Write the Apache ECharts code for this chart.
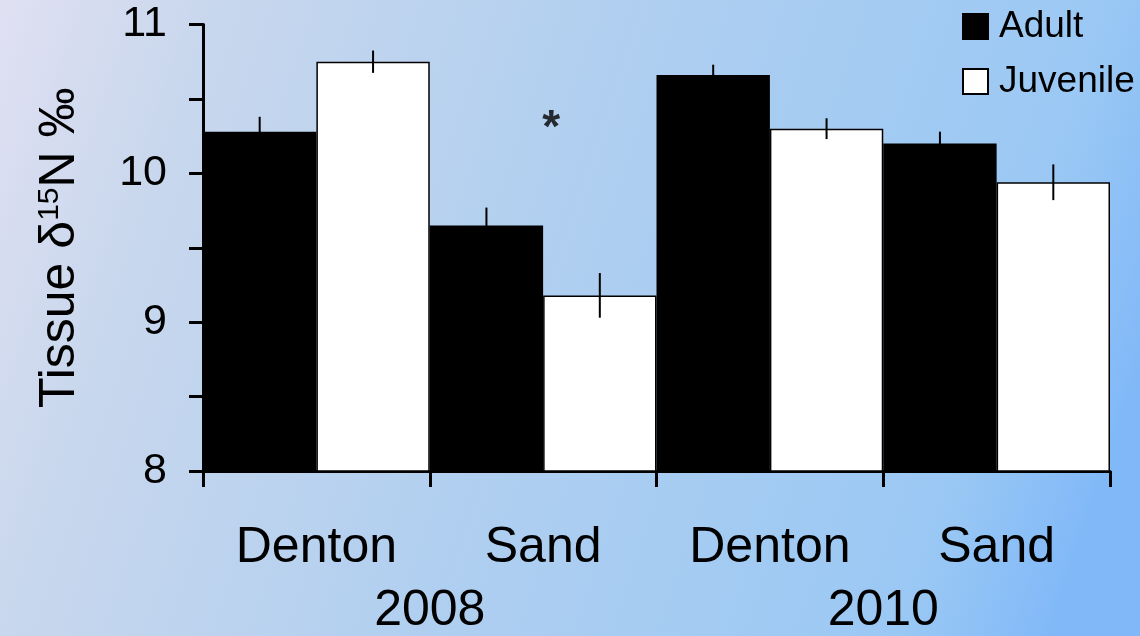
<!DOCTYPE html>
<html>
<head>
<meta charset="utf-8">
<script src="https://cdn.jsdelivr.net/npm/echarts@6/dist/echarts.min.js"></script>
<style>
  html, body { margin: 0; padding: 0; }
  #chart { width: 1140px; height: 636px; }
</style>
</head>
<body>
<div id="chart"></div>
<script>
// sites per year, years under them
const categories = ['Denton', 'Sand', 'Denton', 'Sand'];
const years = ['2008', '2010'];

// tissue d15N means and error
const adult = [10.28, 9.65, 10.66, 10.20];
const adultErr = [0.10, 0.12, 0.07, 0.08];
const juvenile = [10.75, 9.18, 10.30, 9.94];
const juvenileErr = [0.075, 0.15, 0.07, 0.12];

// significance mark
const starPoint = [1, 10.3];

const font = 'Liberation Sans, Arial, sans-serif';

function errorBars(side) {
  return function (params, api) {
    const idx = api.value(0);
    const val = api.value(1);
    const err = api.value(2);
    const band = api.size([1, 0])[0];
    const x = api.coord([idx, val])[0] + side * band / 4;
    return {
      type: 'line',
      shape: {
        x1: x, y1: api.coord([idx, val + err])[1],
        x2: x, y2: api.coord([idx, val - err])[1]
      },
      style: { stroke: '#000', lineWidth: 2 }
    };
  };
}

const chart = echarts.init(document.getElementById('chart'));
chart.setOption({
  animation: false,
  backgroundColor: {
    type: 'linear', x: 0, y: 0, x2: 1, y2: 0.6,
    colorStops: [
      { offset: 0, color: '#e0e0f2' },
      { offset: 0.17, color: '#c8d7ed' },
      { offset: 0.5, color: '#b0cff0' },
      { offset: 0.88, color: '#9ac8f4' },
      { offset: 1, color: '#80b8f8' }
    ]
  },
  textStyle: { fontFamily: font, color: '#000' },
  grid: { left: 203, right: 30, top: 24.5, bottom: 165 },
  legend: {
    data: ['Adult', 'Juvenile'],
    orient: 'vertical',
    left: 962,
    top: 8,
    padding: 0,
    icon: 'rect',
    itemWidth: 25,
    itemHeight: 25,
    itemGap: 18,
    textStyle: { fontSize: 37, lineHeight: 37, color: '#000', padding: [0, 0, 0, 6] }
  },
  xAxis: [
    {
      type: 'category',
      data: categories,
      axisLine: { lineStyle: { color: '#000', width: 3 } },
      axisTick: { show: true, length: 16, lineStyle: { color: '#000', width: 3 } },
      axisLabel: { interval: 0, margin: 52, fontSize: 50, color: '#000' }
    },
    {
      type: 'category',
      data: years,
      position: 'bottom',
      axisLine: { show: false },
      axisTick: { show: false },
      axisLabel: { margin: 115, fontSize: 50, color: '#000' }
    }
  ],
  yAxis: {
    type: 'value',
    min: 8,
    max: 11,
    interval: 0.5,
    splitLine: { show: false },
    axisLine: { show: true, lineStyle: { color: '#000', width: 3 } },
    axisTick: { show: true, length: 14, lineStyle: { color: '#000', width: 3 } },
    axisLabel: {
      margin: 36,
      fontSize: 43,
      color: '#000',
      formatter: v => (Number.isInteger(v) ? String(v) : '')
    },
    name: 'Tissue δ{sup|15}N ‰',
    nameLocation: 'middle',
    nameGap: 118,
    nameRotate: 90,
    nameTextStyle: {
      fontSize: 50,
      color: '#000',
      rich: {
        sup: { fontSize: 30, verticalAlign: 'top', color: '#000', padding: [0, 0, 18, 0] }
      }
    }
  },
  series: [
    {
      name: 'Adult',
      type: 'bar',
      data: adult,
      barGap: 0,
      barCategoryGap: 0,
      itemStyle: { color: '#000', borderColor: '#000', borderWidth: 1.5 },
      z: 2
    },
    {
      name: 'Juvenile',
      type: 'bar',
      data: juvenile,
      itemStyle: { color: '#fff', borderColor: '#000', borderWidth: 1.5 },
      z: 2
    },
    {
      type: 'custom',
      renderItem: errorBars(-1),
      data: adult.map((v, i) => [i, v, adultErr[i]]),
      encode: { x: 0, y: 1 },
      z: 5
    },
    {
      type: 'custom',
      renderItem: errorBars(1),
      data: juvenile.map((v, i) => [i, v, juvenileErr[i]]),
      encode: { x: 0, y: 1 },
      z: 5
    },
    {
      type: 'scatter',
      data: [starPoint],
      symbolSize: 0,
      label: {
        show: true,
        position: 'inside',
        formatter: '*',
        fontSize: 46,
        fontWeight: 'bold',
        color: '#000',
        offset: [8, 1]
      },
      z: 5
    }
  ]
});
</script>
</body>
</html>
